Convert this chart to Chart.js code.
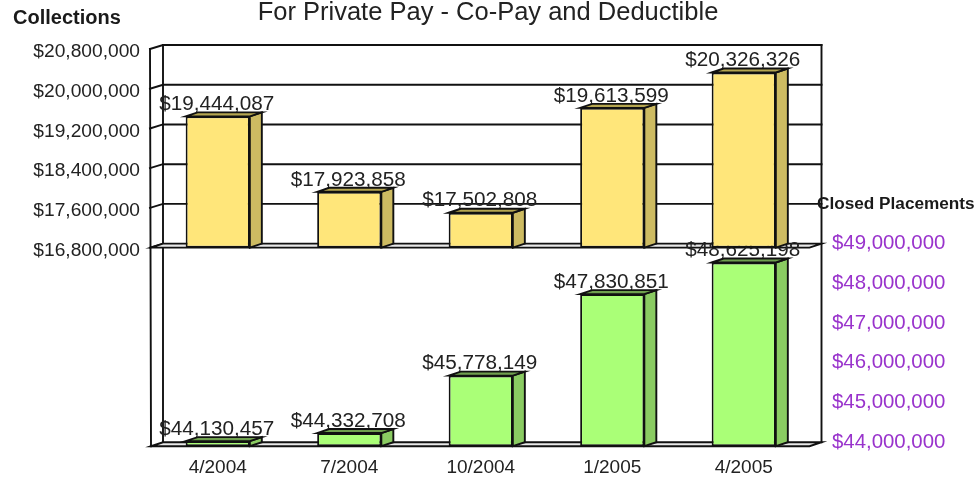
<!DOCTYPE html>
<html><head><meta charset="utf-8">
<style>html,body{margin:0;padding:0;background:#fff}canvas{display:block}</style>
<script src="https://cdn.jsdelivr.net/npm/chart.js@4"></script>
</head><body><canvas id="c" width="976" height="481" style="width:976px;height:481px"></canvas>
<script>
const categories = ['4/2004','7/2004','10/2004','1/2005','4/2005'];
const collections = [19444087,17923858,17502808,19613599,20326326];
const closedPlacements = [44130457,44332708,45778149,47830851,48625198];
const leftTicks = [16800000,17600000,18400000,19200000,20000000,20800000];
const rightTicks = [44000000,45000000,46000000,47000000,48000000,49000000];
const titleText = 'For Private Pay - Co-Pay and Deductible';
const leftTitle = 'Collections';
const rightTitle = 'Closed Placements';
const FONT = '"Liberation Sans", Arial, sans-serif';
const DX = 12, DY = -4;
const money = v => '$' + Number(v).toLocaleString('en-US');

const frame = {
  id:'frame',
  beforeDatasetsDraw(ch){
    const g = ch.ctx, a = ch.chartArea, L = ch.scales.yL, R = ch.scales.yR;
    const xl = a.left-1, xr = a.right;
    g.save();
    g.lineCap='square';
    const floor = (y)=>{
      g.fillStyle='#e8e8e8'; g.beginPath();
      g.moveTo(xl,y); g.lineTo(xl+DX,y+DY); g.lineTo(xr+DX,y+DY); g.lineTo(xr,y); g.closePath(); g.fill();
      g.strokeStyle='#111'; g.lineWidth=1.9; g.stroke();
    };
    g.strokeStyle='#111'; g.lineWidth=1.9;
    // back wall and front edge
    const top=L.getPixelForValue(leftTicks[5]), bot=R.getPixelForValue(rightTicks[0]);
    g.beginPath();
    g.moveTo(xl+DX,bot+DY); g.lineTo(xl+DX,top+DY); g.lineTo(xr+DX,top+DY); g.lineTo(xr+DX,bot+DY);
    g.moveTo(xl-1,top); g.lineTo(xl,bot);
    g.stroke();
    // gridlines on upper pane
    leftTicks.forEach(v=>{
      const y=L.getPixelForValue(v);
      g.beginPath(); g.moveTo(xl-1,y); g.lineTo(xl+DX,y+DY);
      if(v!==leftTicks[0]) g.lineTo(xr+DX,y+DY);
      g.stroke();
    });
    floor(L.getPixelForValue(leftTicks[0]));
    floor(bot);
    // value labels, behind the bars
    g.fillStyle='#222'; g.textAlign='center'; g.textBaseline='middle'; g.font='20.7px '+FONT;
    ch.data.datasets.forEach((d,i)=>{
      ch.getDatasetMeta(i).data.forEach((b,j)=>{
        g.fillText(money(d.data[j]), b.x-1, b.y-12);
      });
    });
    // side and top faces
    ch.data.datasets.forEach((d,i)=>{
      ch.getDatasetMeta(i).data.forEach(b=>{
        const hw=b.width/2, x0=b.x-hw, x1=b.x+hw, y0=b.y, y1=b.base;
        g.lineWidth=1.9; g.strokeStyle='#111';
        g.fillStyle=d.sideColor; g.beginPath();
        g.moveTo(x1,y0); g.lineTo(x1+DX,y0+DY); g.lineTo(x1+DX,y1+DY); g.lineTo(x1,y1); g.closePath(); g.fill(); g.stroke();
        g.fillStyle=d.topColor; g.beginPath();
        g.moveTo(x0,y0); g.lineTo(x0+DX,y0+DY); g.lineTo(x1+DX,y0+DY); g.lineTo(x1,y0); g.closePath(); g.fill(); g.stroke();
      });
    });
    g.restore();
  },
  afterDraw(ch){
    const g=ch.ctx;
    g.save(); g.fillStyle='#1a1a1a'; g.textBaseline='middle';
    g.textAlign='left';
    g.font='bold 20px '+FONT; g.fillText(leftTitle,13,18);
    g.font='bold 17.2px '+FONT; g.fillText(rightTitle,817,204);
    g.restore();
  }
};

new Chart(document.getElementById('c'),{
  type:'bar',
  data:{labels:categories,datasets:[
    {label:'Collections',data:collections,yAxisID:'yL',base:leftTicks[0],backgroundColor:'#FFE67A',sideColor:'#CDBB62',topColor:'#B5A650'},
    {label:'Closed Placements',data:closedPlacements,yAxisID:'yR',base:rightTicks[0],backgroundColor:'#AAFF77',sideColor:'#8ACB62',topColor:'#6FA04E'}
  ]},
  options:{
    responsive:false,animation:false,
    layout:{padding:0},
    datasets:{bar:{grouped:false,categoryPercentage:1,barPercentage:0.488,borderColor:'#111',borderWidth:1.9,borderSkipped:false}},
    plugins:{
      legend:{display:false},tooltip:{enabled:false},
      title:{display:true,text:titleText,color:'#222',font:{family:FONT,size:25.5,weight:'normal',lineHeight:1},padding:{top:0,bottom:23.5}}
    },
    scales:{
      x:{grid:{display:false,drawTicks:false},border:{display:false},
         ticks:{color:'#222',font:{family:FONT,size:19},padding:10,maxRotation:0},
         afterFit(s){s.height=33;}},
      yL:{position:'left',min:12800000,max:20800000,grid:{display:false,drawTicks:false},border:{display:false},
         afterBuildTicks(s){s.ticks=leftTicks.map(v=>({value:v}));},
         afterFit(s){s.width=152;},
         ticks:{color:'#222',font:{family:FONT,size:19.2},padding:12,labelOffset:3,callback:money,autoSkip:false}},
      yR:{position:'right',min:44000000,max:54000000,grid:{display:false,drawTicks:false},border:{display:false},
         afterBuildTicks(s){s.ticks=rightTicks.map(v=>({value:v}));},
         afterFit(s){s.width=166.5;},
         ticks:{color:'#9933CC',font:{family:FONT,size:20.4},padding:22.5,labelOffset:-4,callback:money,autoSkip:false}}
    }
  },
  plugins:[frame]
});
</script></body></html>
